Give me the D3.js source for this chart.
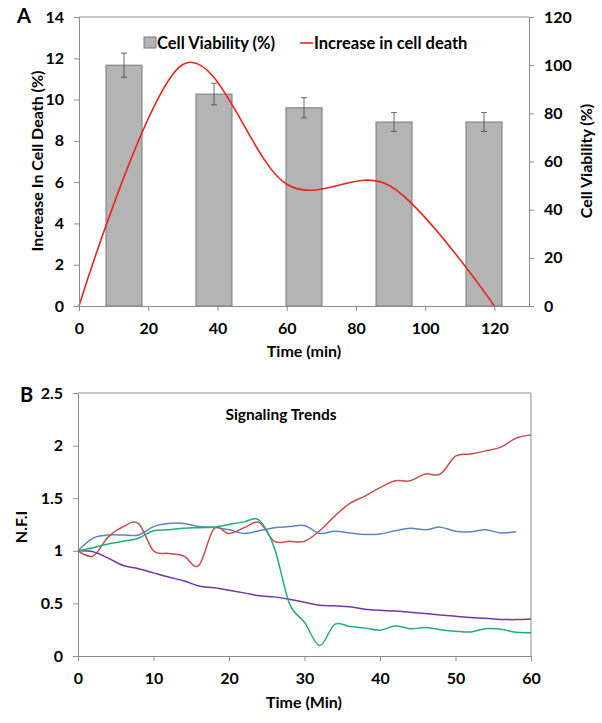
<!DOCTYPE html>
<html>
<head>
<meta charset="utf-8">
<script src="https://cdn.jsdelivr.net/npm/d3@7"></script>
<style>
  body { margin: 0; background: #fff; }
  svg text { font-family: Lato, "Open Sans", sans-serif; font-weight: bold; fill: #000; }
  .axis path, .axis line { stroke: #8c8c8c; }
</style>
</head>
<body>
<svg id="chart" width="602" height="723"></svg>
<script>
// Panel A data
const barCats = ['1', '2', '3', '4', '5']
const viability = [100, 88, 82.3, 76.4, 76.4]
const viabilityErr = [5, 4.5, 4.2, 3.9, 3.9]
const deathTimes = [0, 30, 60, 90, 120]
const deathValues = [0, 11.7, 5.9, 5.8, 0]

// Panel B data (time in min, every 2 min)
const timesB = [0, 2, 4, 6, 8, 10, 12, 14, 16, 18, 20, 22, 24, 26, 28, 30, 32, 34, 36, 38, 40, 42, 44, 46, 48, 50, 52, 54, 56, 58, 60]
const blueB = [1.0, 1.12, 1.15, 1.15, 1.15, 1.23, 1.26, 1.26, 1.23, 1.225, 1.2, 1.165, 1.19, 1.22, 1.23, 1.24, 1.165, 1.185, 1.17, 1.155, 1.16, 1.19, 1.215, 1.2, 1.225, 1.185, 1.18, 1.2, 1.17, 1.18, null]
const redB = [1.0, 0.95, 1.13, 1.23, 1.26, 1.0, 0.975, 0.95, 0.86, 1.21, 1.165, 1.22, 1.27, 1.09, 1.09, 1.09, 1.19, 1.33, 1.45, 1.52, 1.6, 1.665, 1.665, 1.73, 1.73, 1.9, 1.92, 1.95, 1.985, 2.07, 2.1]
const greenB = [1.0, 1.03, 1.065, 1.09, 1.12, 1.19, 1.2, 1.215, 1.22, 1.225, 1.25, 1.275, 1.29, 1.03, 0.5, 0.32, 0.1, 0.3, 0.28, 0.265, 0.245, 0.285, 0.26, 0.27, 0.25, 0.235, 0.228, 0.26, 0.255, 0.225, 0.222]
const purpleB = [1.0, 0.99, 0.93, 0.86, 0.83, 0.79, 0.75, 0.715, 0.666, 0.648, 0.625, 0.6, 0.572, 0.562, 0.54, 0.51, 0.482, 0.477, 0.468, 0.445, 0.434, 0.428, 0.415, 0.403, 0.39, 0.378, 0.366, 0.358, 0.348, 0.346, 0.352]

const svg = d3.select('#chart')

// ---------- Panel A ----------
const A = { left: 79, right: 529, top: 17, bottom: 306 }
const xA = d3.scaleLinear().domain([0, 130]).range([A.left, A.right])
const yL = d3.scaleLinear().domain([0, 14]).range([A.bottom, A.top])
const yR = d3.scaleLinear().domain([0, 120]).range([A.bottom, A.top])
const band = d3.scaleBand().domain(barCats).range([A.left, A.right]).paddingInner(0.6).paddingOuter(0.3)

// top border
svg.append('line').attr('x1', A.left).attr('x2', A.right).attr('y1', A.top).attr('y2', A.top).attr('stroke', '#8c8c8c')

// bars
svg.append('g').selectAll('rect').data(viability).join('rect')
  .attr('x', (d, i) => band(barCats[i]))
  .attr('y', d => yR(d))
  .attr('width', band.bandwidth())
  .attr('height', d => A.bottom - yR(d))
  .attr('fill', '#b4b4b4')
  .attr('stroke', '#7a7a7a')
  .attr('stroke-width', 1)

// error bars
const errG = svg.append('g').attr('stroke', '#444').attr('stroke-width', 0.8)
viability.forEach((v, i) => {
  const cx = band(barCats[i]) + band.bandwidth() / 2
  const e = viabilityErr[i]
  errG.append('line').attr('x1', cx).attr('x2', cx).attr('y1', yR(v + e)).attr('y2', yR(v - e))
  errG.append('line').attr('x1', cx - 3).attr('x2', cx + 3).attr('y1', yR(v + e)).attr('y2', yR(v + e))
  errG.append('line').attr('x1', cx - 3).attr('x2', cx + 3).attr('y1', yR(v - e)).attr('y2', yR(v - e))
})

// red smooth line
const deathLine = d3.line()
  .x((d, i) => xA(deathTimes[i]))
  .y(d => yL(d))
  .curve(d3.curveCardinal)
svg.append('path').datum(deathValues)
  .attr('d', deathLine)
  .attr('fill', 'none')
  .attr('stroke', '#e8251f')
  .attr('stroke-width', 1.6)

// axes
svg.append('g').attr('class', 'axis').attr('transform', `translate(${A.left},0)`)
  .call(d3.axisLeft(yL).tickValues(d3.range(0, 15, 2)).tickSize(5).tickSizeOuter(0).tickPadding(10))
svg.append('g').attr('class', 'axis').attr('transform', `translate(${A.right},0)`)
  .call(d3.axisRight(yR).tickValues(d3.range(0, 121, 20)).tickSize(5).tickSizeOuter(0).tickPadding(10))
svg.append('g').attr('class', 'axis').attr('transform', `translate(0,${A.bottom})`)
  .call(d3.axisBottom(xA).tickValues(d3.range(0, 121, 20)).tickSize(5).tickSizeOuter(0).tickPadding(12))

// axis titles
svg.append('text').attr('x', 304).attr('y', 357).attr('text-anchor', 'middle').style('font-size', '16px').text('Time (min)')
svg.append('text').attr('transform', 'translate(43,161) rotate(-90)').attr('text-anchor', 'middle').style('font-size', '16px').text('Increase In Cell Death (%)')
svg.append('text').attr('transform', 'translate(592,161) rotate(-90)').attr('text-anchor', 'middle').style('font-size', '16px').text('Cell Viability (%)')
svg.append('text').attr('x', 17).attr('y', 23).style('font-size', '20px').text('A')

// legend
svg.append('rect').attr('x', 144).attr('y', 37).attr('width', 12).attr('height', 11)
  .attr('fill', '#b4b4b4').attr('stroke', '#7a7a7a')
svg.append('text').attr('x', 157).attr('y', 49).style('font-size', '16.5px').text('Cell Viability (%)')
svg.append('line').attr('x1', 300).attr('x2', 313).attr('y1', 43).attr('y2', 43).attr('stroke', '#e8251f').attr('stroke-width', 1.6)
svg.append('text').attr('x', 314).attr('y', 49).style('font-size', '16.5px').text('Increase in cell death')

// ---------- Panel B ----------
const B = { left: 78, right: 531, top: 393, bottom: 656 }
const xB = d3.scaleLinear().domain([0, 60]).range([B.left, B.right])
const yB = d3.scaleLinear().domain([0, 2.5]).range([B.bottom, B.top])

svg.append('line').attr('x1', B.left).attr('x2', B.right).attr('y1', B.top).attr('y2', B.top).attr('stroke', '#8c8c8c')
svg.append('line').attr('x1', B.right).attr('x2', B.right).attr('y1', B.top).attr('y2', B.bottom).attr('stroke', '#8c8c8c')

svg.append('g').attr('class', 'axis').attr('transform', `translate(${B.left},0)`)
  .call(d3.axisLeft(yB).tickValues(d3.range(0, 2.51, 0.5)).tickFormat(d3.format('')).tickSize(5).tickSizeOuter(0).tickPadding(10))
svg.append('g').attr('class', 'axis').attr('transform', `translate(0,${B.bottom})`)
  .call(d3.axisBottom(xB).tickValues(d3.range(0, 61, 10)).tickSize(5).tickSizeOuter(0).tickPadding(12))
svg.selectAll('.axis text').style('font-size', '16px').attr('font-family', null)

const seriesB = [
  { values: blueB, color: '#5b85c0' },
  { values: redB, color: '#c4514e' },
  { values: purpleB, color: '#7336a6' },
  { values: greenB, color: '#1fb070' }
]
const lineB = d3.line()
  .defined(d => d != null)
  .x((d, i) => xB(timesB[i]))
  .y(d => yB(d))
  .curve(d3.curveCardinal)
svg.append('g').selectAll('path').data(seriesB).join('path')
  .attr('d', s => lineB(s.values))
  .attr('fill', 'none')
  .attr('stroke', s => s.color)
  .attr('stroke-width', 1.5)

svg.append('text').attr('x', 281).attr('y', 420).attr('text-anchor', 'middle').style('font-size', '15.5px').text('Signaling Trends')
svg.append('text').attr('x', 304).attr('y', 708).attr('text-anchor', 'middle').style('font-size', '16px').text('Time (Min)')
svg.append('text').attr('transform', 'translate(27,527) rotate(-90)').attr('text-anchor', 'middle').style('font-size', '16px').text('N.F.I')
svg.append('text').attr('x', 20).attr('y', 402).style('font-size', '20px').text('B')
</script>
</body>
</html>
